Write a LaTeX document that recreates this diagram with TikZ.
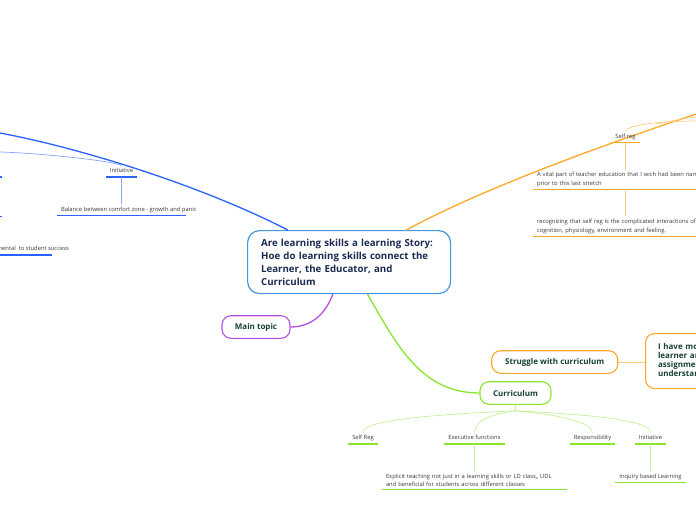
\documentclass[tikz,border=0pt]{standalone}
\usepackage{fontspec}
\setmainfont{Open Sans}
\usetikzlibrary{positioning, calc}

\definecolor{bluebr}{RGB}{41,98,255}
\definecolor{lblue}{RGB}{130,165,255}
\definecolor{orangebr}{RGB}{255,167,38}
\definecolor{lorange}{RGB}{255,205,130}
\definecolor{greenbr}{RGB}{135,230,45}
\definecolor{lgreen}{RGB}{195,242,150}
\definecolor{purplebr}{RGB}{180,80,230}
\definecolor{rootblue}{RGB}{70,150,220}
\definecolor{navy}{RGB}{26,42,80}
\definecolor{dkgreen}{RGB}{22,66,50}
\definecolor{leafgray}{RGB}{55,55,55}

\begin{document}
\begin{tikzpicture}[
    x=1pt, y=1pt,
    node distance=27pt,
    root/.style={draw=rootblue, line width=1.2pt, rounded corners=12pt, fill=white, text=navy, font=\bfseries\fontsize{9.7}{13}\selectfont, align=left, text width=176pt, inner xsep=13.5pt, minimum height=63pt},
    topic/.style={draw=#1, line width=1.1pt, rounded corners=9pt, fill=white, text=dkgreen, font=\bfseries\fontsize{8}{9.1}\selectfont, minimum height=22.6pt},
    leaftext/.style={font=\fontsize{5.8}{8.5}\selectfont, text=leafgray, text height=4.5pt, text depth=1.5pt, inner xsep=4pt, inner ysep=2.5pt},
    leaf/.style={leaftext, append after command={(\tikzlastnode.south west) edge[ul=#1] (\tikzlastnode.south east)}},
    twoline/.style={text width=177pt, align=left, text height=, text depth=},
    ul/.style={draw=#1, line width=1.3pt},
    branch/.style={draw=#1, line width=1.3pt},
    twig/.style={draw=#1, line width=0.7pt}
]
    \useasboundingbox (0,0) rectangle (696,-520);
    \clip (0,0) rectangle (696,-520);

    \node[root, anchor=north west] (root) at (247,-230) {Are learning skills a learning Story:\\Hoe do learning skills connect the\\Learner, the Educator, and\\Curriculum};

    \node[topic=purplebr, minimum width=68pt] (maintopic) at (256,-327) {Main topic};
    \node[topic=greenbr, minimum width=71pt] (curr) at (515.5,-393) {Curriculum};
    \node[topic=orangebr, minimum width=126pt] (struggle) at (554.7,-362) {Struggle with curriculum};
    \node[topic=orangebr, anchor=north west, minimum height=55pt, text width=90pt, align=left, inner xsep=12.5pt] (imore) at (645,-333) {I have more\\learner and\\assignments\\understanding};

    % main branches
    \coordinate (blueend) at (0,-133);
    \coordinate (orangeend) at (730,-103);
    \draw[branch=bluebr] ($(root.north west)!0.2!(root.north east)$) .. controls (200,-185) and (80,-148) .. (blueend);
    \draw[branch=orangebr] ($(root.north west)!0.78!(root.north east)$) .. controls (480,-190) and (600,-145) .. (orangeend);
    \draw[branch=purplebr] ($(root.south west)!0.42!(root.south east)$) to[out=-110,in=0] (maintopic.east);
    \draw[branch=greenbr] ($(root.south west)!0.59!(root.south east)$) to[out=-60,in=180] (curr.west);
    \draw[twig=lorange] (struggle.east) -- (struggle.east -| imore.west);

    % blue side
    \node[leaf=bluebr, anchor=south] (initb) at (121.5,-177) {Initiative};
    \node[leaf=bluebr, below=27pt of initb] (balance) {\makebox[121pt][l]{Balance between comfort zone - growth and panic}};
    \draw[twig=lblue] (initb) -- (balance);
    \coordinate (lblueend) at (0,-152);
    \draw[twig=lblue] (initb.north) .. controls +(-3,4) and +(40,-1) .. (lblueend);
    \coordinate (stubA) at (2,-177);
    \coordinate (stubB) at (2,-216.7);
    \draw[ul=bluebr] (stubA) -- ++(-10,0);
    \draw[ul=bluebr] (stubB) -- ++(-10,0);
    \node[leaftext, anchor=south east, inner xsep=0pt] (success) at (69,-255) {fundamental\ \ to student success};
    \draw[ul=bluebr] (success.south west) -- ($(success.south east)+(-17,0)$);

    % orange side
    \node[leaf=orangebr, anchor=south] (selfreg) at (625.5,-142.7) {Self reg};
    \node[leaf=orangebr, twoline, below=27pt of selfreg] (vital) {A vital part of teacher education that I wich had been named\\prior to this last stretch};
    \node[leaf=orangebr, twoline, below=27pt of vital] (recog) {recognizing that self reg is the complicated interactions of\\cognition, physiology, environment and feeling.};
    \draw[twig=lorange] (selfreg) -- (vital);
    \draw[twig=lorange] (vital) -- (recog);
    \coordinate (orfork) at (700,-121);
    \coordinate (orsplit) at (655,-124);
    \coordinate (orforkB) at (700,-117);
    \draw[twig=lorange] (selfreg.north) .. controls +(1,5) and +(-50,0) .. (orfork);
    \draw[twig=lorange] (orsplit) .. controls +(15,2) and +(-20,-1) .. (orforkB);

    % green side
    \node[leaf=greenbr, anchor=south] (sreg) at (363,-444) {Self Reg};
    \node[leaf=greenbr, anchor=south] (exec) at (474.5,-444) {Executive functions};
    \node[leaf=greenbr, anchor=south] (resp) at (592.5,-444) {Responsibility};
    \node[leaf=greenbr, anchor=south] (initg) at (650.5,-444) {Initiative};
    \node[leaf=greenbr, twoline, below=27pt of exec] (explicit) {Explicit teaching not just in a learning skills or LD class,, UDL\\and beneficial for students across different classes};
    \node[leaf=greenbr, below=27pt of initg] (inquiry) {Inquiry based Learning};
    \coordinate (cfork) at ($(curr.south)+(0,-6)$);
    \draw[twig=lgreen] (curr.south) -- (cfork);
    \draw[twig=lgreen] (cfork) .. controls +(-90,-4) and +(0,12) .. (sreg.north);
    \draw[twig=lgreen] (cfork) .. controls +(-30,-4) and +(0,10) .. (exec.north);
    \draw[twig=lgreen] (cfork) .. controls +(45,-4) and +(0,10) .. (resp.north);
    \draw[twig=lgreen] (cfork) .. controls +(80,-4) and +(0,12) .. (initg.north);
    \draw[twig=lgreen] (exec) -- (explicit);
    \draw[twig=lgreen] (initg) -- (inquiry);

\end{tikzpicture}
\end{document}
